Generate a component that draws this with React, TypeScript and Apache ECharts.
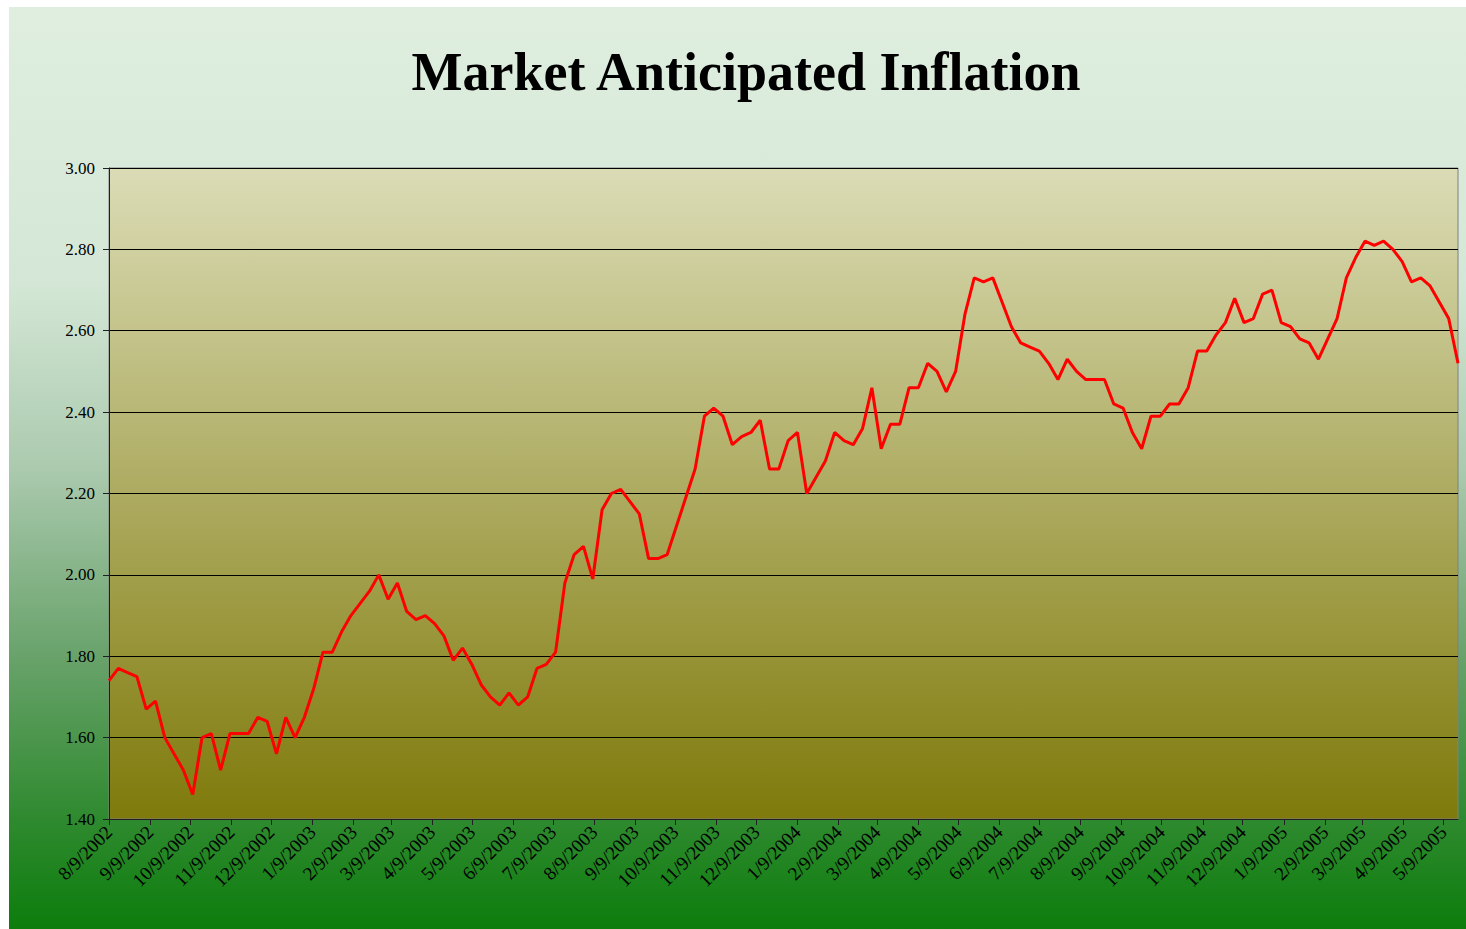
import { useEffect, useRef } from "react";
import * as echarts from "echarts";

// Weekly observations (Fridays) starting 8/9/2002, ending 5/20/2005
const START_YEAR = 2002;
const START_MONTH = 8; // 1-based
const START_DAY = 9;
const WEEK_DAYS = 7;

const WEEKLY_VALUES: number[] = [
  1.74, 1.77, 1.76, 1.75, 1.67, 1.69, 1.60, 1.56, 1.52, 1.46,
  1.60, 1.61, 1.52, 1.61, 1.61, 1.61, 1.65, 1.64, 1.56, 1.65,
  1.60, 1.65, 1.72, 1.81, 1.81, 1.86, 1.90, 1.93, 1.96, 2.00,
  1.94, 1.98, 1.91, 1.89, 1.90, 1.88, 1.85, 1.79, 1.82, 1.78,
  1.73, 1.70, 1.68, 1.71, 1.68, 1.70, 1.77, 1.78, 1.81, 1.98,
  2.05, 2.07, 1.99, 2.16, 2.20, 2.21, 2.18, 2.15, 2.04, 2.04,
  2.05, 2.12, 2.19, 2.26, 2.39, 2.41, 2.39, 2.32, 2.34, 2.35,
  2.38, 2.26, 2.26, 2.33, 2.35, 2.20, 2.24, 2.28, 2.35, 2.33,
  2.32, 2.36, 2.46, 2.31, 2.37, 2.37, 2.46, 2.46, 2.52, 2.50,
  2.45, 2.50, 2.64, 2.73, 2.72, 2.73, 2.67, 2.61, 2.57, 2.56,
  2.55, 2.52, 2.48, 2.53, 2.50, 2.48, 2.48, 2.48, 2.42, 2.41,
  2.35, 2.31, 2.39, 2.39, 2.42, 2.42, 2.46, 2.55, 2.55, 2.59,
  2.62, 2.68, 2.62, 2.63, 2.69, 2.70, 2.62, 2.61, 2.58, 2.57,
  2.53, 2.58, 2.63, 2.73, 2.78, 2.82, 2.81, 2.82, 2.80, 2.77,
  2.72, 2.73, 2.71, 2.67, 2.63, 2.52,
];

const Y_MIN = 1.4;
const Y_MAX = 3.0;
const Y_STEP = 0.2;
const LABEL_DAY = 9; // monthly tick labels fall on the 9th

const TITLE = "Market Anticipated Inflation";

// Daily category axis so that the monthly labels sit at their true dates
function buildDays(): string[] {
  const out: string[] = [];
  const start = Date.UTC(START_YEAR, START_MONTH - 1, START_DAY);
  const totalDays = (WEEKLY_VALUES.length - 1) * WEEK_DAYS;
  for (let i = 0; i <= totalDays; i++) {
    const d = new Date(start + i * 86400000);
    out.push(`${d.getUTCMonth() + 1}/${d.getUTCDate()}/${d.getUTCFullYear()}`);
  }
  return out;
}

const DAYS = buildDays();
const SERIES_DATA = DAYS.map((_, i) =>
  i % WEEK_DAYS === 0 ? WEEKLY_VALUES[i / WEEK_DAYS] : null
);

const isLabelDay = (_idx: number, value: string) =>
  Number(String(value).split("/")[1]) === LABEL_DAY;

const FONT = "'Liberation Serif', 'Times New Roman', serif";

export default function App() {
  const ref = useRef<HTMLDivElement>(null);

  useEffect(() => {
    if (!ref.current) return;
    const chart = echarts.init(ref.current, undefined, { renderer: "svg" });
    chart.setOption({
      animation: false,
      backgroundColor: "#ffffff",
      graphic: [
        {
          type: "rect",
          z: -100,
          silent: true,
          shape: { x: 9, y: 7, width: 1457, height: 922 },
          style: {
            fill: {
              type: "linear",
              x: 0,
              y: 0,
              x2: 0,
              y2: 1,
              colorStops: [
                { offset: 0, color: "#dfeedf" },
                { offset: 0.3, color: "#d4e7d6" },
                { offset: 0.5, color: "#abcaae" },
                { offset: 0.7, color: "#6aa36c" },
                { offset: 0.88, color: "#2f8a2f" },
                { offset: 1, color: "#0c7d0c" },
              ],
            },
          },
        },
        {
          type: "text",
          z: 100,
          x: 746,
          y: 72,
          style: {
            text: TITLE,
            fill: "#000000",
            font: `bold 54px ${FONT}`,
            textAlign: "center",
            textVerticalAlign: "middle",
          },
        },
      ],
      grid: {
        left: 109,
        top: 168,
        right: 8,
        bottom: 110,
        show: true,
        borderColor: "#808080",
        borderWidth: 1,
        backgroundColor: {
          type: "linear",
          x: 0,
          y: 0,
          x2: 0,
          y2: 1,
          colorStops: [
            { offset: 0, color: "#dbdcb6" },
            { offset: 1, color: "#7f7a0b" },
          ],
        },
      },
      xAxis: {
        type: "category",
        data: DAYS,
        boundaryGap: false,
        axisLine: { show: true, lineStyle: { color: "#202020", width: 1 } },
        axisTick: {
          show: true,
          interval: isLabelDay,
          length: 6,
          lineStyle: { color: "#202020" },
        },
        axisLabel: {
          interval: isLabelDay,
          rotate: 45,
          margin: 10,
          color: "#000000",
          fontFamily: FONT,
          fontSize: 19,
        },
        splitLine: { show: false },
      },
      yAxis: {
        type: "value",
        min: Y_MIN,
        max: Y_MAX,
        interval: Y_STEP,
        axisLine: { show: true, lineStyle: { color: "#202020", width: 1 } },
        axisTick: { show: true, length: 6, lineStyle: { color: "#202020" } },
        axisLabel: {
          margin: 14,
          color: "#000000",
          fontFamily: FONT,
          fontSize: 17,
          formatter: (v: number) => v.toFixed(2),
        },
        splitLine: { show: true, lineStyle: { color: "#000000", width: 1 } },
      },
      series: [
        {
          type: "line",
          data: SERIES_DATA,
          connectNulls: true,
          showSymbol: false,
          symbol: "none",
          lineStyle: { color: "#ff0000", width: 3 },
          itemStyle: { color: "#ff0000" },
        },
      ],
    });
    return () => chart.dispose();
  }, []);

  return (
    <div
      ref={ref}
      style={{ position: "absolute", left: 0, top: 0, width: 1466, height: 929 }}
    />
  );
}
